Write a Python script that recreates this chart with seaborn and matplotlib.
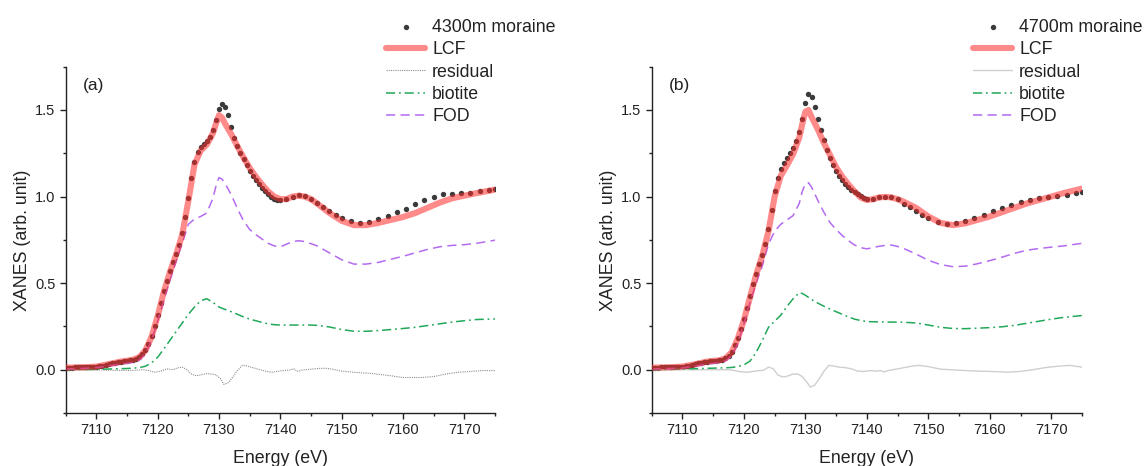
import numpy as np
import matplotlib
matplotlib.use("Agg")
import matplotlib.pyplot as plt
import seaborn as sns

# ---------------- data ----------------
# measured spectra (energy in eV, normalised XANES)
e_meas = [7105, 7105.5, 7106, 7106.5, 7107, 7107.5, 7108, 7108.5, 7109, 7109.5,
          7110, 7110.5, 7111, 7111.5, 7112, 7112.5, 7113, 7113.5, 7114, 7114.5,
          7115, 7115.5, 7116, 7116.5, 7117, 7117.5, 7118, 7118.5, 7119, 7119.5,
          7120, 7120.5, 7121, 7121.5, 7122, 7122.5, 7123, 7123.5, 7124, 7124.5,
          7125, 7125.5, 7126, 7126.5, 7127, 7127.5, 7128, 7128.5, 7129, 7129.5,
          7130, 7130.5, 7131, 7131.5, 7132, 7132.5, 7133, 7133.5, 7134, 7134.5,
          7135, 7135.5, 7136, 7136.5, 7137, 7137.5, 7138, 7138.5, 7139, 7139.5,
          7140, 7141, 7142, 7143, 7144, 7145, 7146, 7147, 7148, 7149, 7150,
          7151.5, 7153, 7154.5, 7156, 7157.5, 7159, 7160.5, 7162, 7163.5, 7165,
          7166.5, 7168, 7169.5, 7171, 7172.5, 7174, 7175]

moraine_4300 = [0.012, 0.012, 0.012, 0.013, 0.013, 0.014, 0.014, 0.015, 0.016, 0.017,
                0.018, 0.020, 0.023, 0.027, 0.032, 0.037, 0.041, 0.044, 0.047, 0.050,
                0.052, 0.055, 0.058, 0.063, 0.072, 0.088, 0.115, 0.150, 0.195, 0.250,
                0.315, 0.385, 0.455, 0.515, 0.570, 0.620, 0.670, 0.720, 0.790, 0.880,
                0.990, 1.110, 1.200, 1.255, 1.285, 1.305, 1.320, 1.345, 1.385, 1.445,
                1.505, 1.535, 1.520, 1.470, 1.400, 1.340, 1.290, 1.250, 1.215, 1.180,
                1.150, 1.120, 1.095, 1.070, 1.050, 1.030, 1.012, 0.998, 0.988, 0.983,
                0.982, 0.988, 1.000, 1.008, 1.003, 0.988, 0.965, 0.940, 0.915, 0.893, 0.875,
                0.858, 0.850, 0.855, 0.870, 0.890, 0.910, 0.927, 0.955, 0.978, 1.000,
                1.012, 1.017, 1.021, 1.023, 1.030, 1.037, 1.042]

moraine_4700 = [0.012, 0.012, 0.012, 0.013, 0.013, 0.014, 0.014, 0.015, 0.016, 0.017,
                0.018, 0.020, 0.023, 0.027, 0.031, 0.036, 0.040, 0.044, 0.047, 0.049,
                0.051, 0.052, 0.054, 0.058, 0.066, 0.080, 0.105, 0.140, 0.185, 0.235,
                0.290, 0.355, 0.425, 0.495, 0.555, 0.610, 0.665, 0.725, 0.810, 0.920,
                1.030, 1.110, 1.160, 1.195, 1.225, 1.250, 1.280, 1.320, 1.375, 1.450,
                1.540, 1.590, 1.575, 1.520, 1.450, 1.385, 1.325, 1.270, 1.225, 1.185,
                1.150, 1.120, 1.095, 1.072, 1.055, 1.038, 1.025, 1.012, 1.002, 0.992,
                0.985, 0.988, 0.998, 1.000, 0.998, 0.985, 0.958, 0.938, 0.918, 0.895, 0.875,
                0.855, 0.843, 0.845, 0.860, 0.875, 0.895, 0.915, 0.935, 0.953, 0.970,
                0.983, 0.990, 0.995, 1.002, 1.010, 1.020, 1.028]

# fit and reference components
e_fit = [7105, 7108, 7110, 7112, 7114, 7115, 7116, 7117, 7118, 7119, 7120, 7121,
         7122, 7123, 7124, 7125, 7126, 7127, 7128, 7129, 7129.5, 7130, 7130.5,
         7131, 7132, 7133, 7134, 7135, 7136, 7137, 7138, 7139, 7140, 7141, 7142,
         7143, 7144, 7145, 7146, 7148, 7150, 7152, 7154, 7156, 7158, 7160, 7162,
         7164, 7166, 7168, 7170, 7172, 7175]

lcf_4300 = [0.012, 0.014, 0.018, 0.032, 0.047, 0.052, 0.058, 0.072, 0.112, 0.190, 0.310, 0.450,
            0.565, 0.665, 0.780, 0.975, 1.185, 1.265, 1.300, 1.365, 1.420, 1.470, 1.455,
            1.420, 1.360, 1.290, 1.225, 1.165, 1.115, 1.070, 1.030, 1.000, 0.985, 0.985, 1.000,
            1.005, 1.000, 0.985, 0.960, 0.905, 0.860, 0.835, 0.835, 0.848, 0.865, 0.882, 0.905,
            0.935, 0.965, 0.990, 1.005, 1.020, 1.040]
fod_4300 = [0.005, 0.008, 0.012, 0.022, 0.032, 0.037, 0.042, 0.055, 0.090, 0.170, 0.280, 0.400,
            0.515, 0.625, 0.730, 0.840, 0.870, 0.885, 0.905, 0.990, 1.060, 1.110, 1.100,
            1.075, 1.010, 0.930, 0.860, 0.810, 0.780, 0.755, 0.730, 0.715, 0.710, 0.725, 0.740,
            0.745, 0.740, 0.728, 0.715, 0.675, 0.635, 0.610, 0.610, 0.620, 0.638, 0.655, 0.675,
            0.695, 0.710, 0.718, 0.722, 0.730, 0.748]
biotite_4300 = [0.000, 0.001, 0.002, 0.004, 0.006, 0.007, 0.009, 0.012, 0.020, 0.040, 0.072, 0.120,
                0.170, 0.220, 0.270, 0.320, 0.362, 0.398, 0.410, 0.390, 0.375, 0.362, 0.355,
                0.348, 0.335, 0.320, 0.305, 0.292, 0.283, 0.273, 0.265, 0.260, 0.258, 0.258, 0.258,
                0.258, 0.258, 0.258, 0.256, 0.247, 0.232, 0.222, 0.222, 0.226, 0.232, 0.238, 0.245,
                0.255, 0.265, 0.275, 0.283, 0.290, 0.293]

lcf_4700 = [0.012, 0.014, 0.018, 0.031, 0.047, 0.051, 0.054, 0.066, 0.100, 0.180, 0.285, 0.420,
            0.550, 0.660, 0.800, 1.000, 1.120, 1.180, 1.245, 1.340, 1.420, 1.490, 1.500,
            1.460, 1.390, 1.310, 1.240, 1.170, 1.115, 1.070, 1.030, 0.995, 0.980, 0.985, 0.995,
            0.998, 0.995, 0.985, 0.970, 0.935, 0.885, 0.848, 0.835, 0.845, 0.865, 0.885, 0.910,
            0.935, 0.960, 0.980, 1.000, 1.020, 1.046]
fod_4700 = [0.005, 0.007, 0.010, 0.020, 0.032, 0.036, 0.040, 0.050, 0.080, 0.150, 0.265, 0.390,
            0.500, 0.600, 0.725, 0.800, 0.840, 0.865, 0.890, 0.960, 1.030, 1.075, 1.080,
            1.055, 0.980, 0.910, 0.850, 0.810, 0.775, 0.745, 0.720, 0.705, 0.698, 0.705, 0.713,
            0.718, 0.720, 0.712, 0.700, 0.668, 0.632, 0.607, 0.595, 0.598, 0.612, 0.630, 0.650,
            0.672, 0.690, 0.700, 0.708, 0.715, 0.730]
biotite_4700 = [0.000, 0.002, 0.004, 0.006, 0.008, 0.009, 0.010, 0.011, 0.013, 0.018, 0.028, 0.050,
                0.100, 0.170, 0.245, 0.280, 0.315, 0.365, 0.410, 0.445, 0.440, 0.430, 0.418,
                0.405, 0.385, 0.367, 0.350, 0.335, 0.320, 0.305, 0.292, 0.284, 0.278, 0.277, 0.276,
                0.276, 0.275, 0.275, 0.274, 0.270, 0.258, 0.245, 0.238, 0.237, 0.240, 0.243, 0.248,
                0.256, 0.268, 0.280, 0.292, 0.302, 0.313]

# fit residuals
e_res = [7105, 7108, 7111, 7114, 7116, 7117.5, 7118.5, 7119.5, 7120.5, 7121.5, 7122.5,
         7123.2, 7124, 7124.8, 7125.5, 7126.3, 7127, 7128, 7128.8, 7129.5, 7130.2, 7130.8,
         7131.5, 7132.3, 7133, 7133.8, 7134.5, 7135.5, 7136.5, 7137.5, 7138.5, 7139.5,
         7140.5, 7141.5, 7142.2, 7142.8, 7143.5, 7145, 7146.5, 7147.5, 7148.5, 7150, 7152,
         7155, 7158, 7160, 7163, 7165, 7167, 7169, 7171, 7173, 7175]
residual_4300 = [0.0, 0.0, -0.002, -0.004, -0.004, 0.0, -0.005, -0.015, -0.008, 0.005, 0.0,
                 0.010, 0.015, 0.0, -0.025, -0.035, -0.030, -0.022, -0.025, -0.030, -0.050, -0.085,
                 -0.075, -0.040, -0.005, 0.025, 0.022, 0.012, 0.002, -0.008, -0.015, -0.010,
                 -0.005, -0.002, 0.005, -0.010, -0.002, 0.003, 0.008, 0.008, 0.003, -0.008, -0.015,
                 -0.022, -0.035, -0.045, -0.045, -0.040, -0.025, -0.015, -0.010, -0.005, -0.005]
residual_4700 = [0.0, 0.0, 0.0, 0.0, 0.0, 0.0, -0.005, -0.012, -0.015, -0.010, -0.005,
                 -0.003, 0.015, 0.005, -0.030, -0.042, -0.038, -0.025, -0.025, -0.040, -0.070, -0.100,
                 -0.090, -0.050, -0.010, 0.025, 0.022, 0.015, 0.012, 0.005, -0.008, -0.010,
                 -0.005, -0.008, -0.005, -0.012, -0.005, 0.005, 0.015, 0.022, 0.025, 0.018, 0.003,
                 -0.003, -0.008, -0.010, -0.014, -0.010, 0.0, 0.012, 0.020, 0.025, 0.015]

panels = [
    dict(tag="(a)", name="4300m moraine", meas=moraine_4300, lcf=lcf_4300,
         res=residual_4300, bio=biotite_4300, fod=fod_4300,
         res_style=dict(color="#8c8c8c", linestyle=(0, (1, 1)), linewidth=0.8)),
    dict(tag="(b)", name="4700m moraine", meas=moraine_4700, lcf=lcf_4700,
         res=residual_4700, bio=biotite_4700, fod=fod_4700,
         res_style=dict(color="#cfcfcf", linestyle="-", linewidth=1.0)),
]

x_major = [7110, 7120, 7130, 7140, 7150, 7160, 7170]
x_minor = [7105, 7115, 7125, 7135, 7145, 7155, 7165, 7175]
y_major = [0.0, 0.5, 1.0, 1.5]
y_minor = [-0.25, 0.25, 0.75, 1.25, 1.75]

# ---------------- style ----------------
sns.set_theme(style="ticks")
plt.rcParams["font.family"] = ["Liberation Sans", "DejaVu Sans"]
plt.rcParams.update({
    "axes.linewidth": 1.0,
    "axes.edgecolor": "#222222",
    "xtick.color": "#222222",
    "ytick.color": "#222222",
    "xtick.labelcolor": "#222222",
    "ytick.labelcolor": "#222222",
    "text.color": "#222222",
    "axes.labelcolor": "#222222",
})

fig = plt.figure(figsize=(11.46, 4.66), dpi=100)
W, H = 1146, 466
axes_px = [(65.7, 495.0), (651.7, 1082.0)]
legend_px = [386, 973]
top_px, bot_px = 66.7, 413.0

for p, (x0, x1), lx in zip(panels, axes_px, legend_px):
    ax = fig.add_axes([x0 / W, 1 - bot_px / H, (x1 - x0) / W, (bot_px - top_px) / H])

    sns.scatterplot(x=e_meas, y=p["meas"], ax=ax, color="#3a3a3a", s=15,
                    linewidth=0, label=p["name"], zorder=2)
    sns.lineplot(x=e_fit, y=p["lcf"], ax=ax, color="#ff2a2a", alpha=0.55,
                 linewidth=4.4, label="LCF", zorder=3)
    sns.lineplot(x=e_res, y=p["res"], ax=ax, label="residual", zorder=2,
                 **p["res_style"])
    sns.lineplot(x=e_fit, y=p["bio"], ax=ax, color="#22a85a", linewidth=1.1,
                 linestyle=(0, (6, 2.5, 1.2, 2.5)), label="biotite", zorder=2)
    sns.lineplot(x=e_fit, y=p["fod"], ax=ax, color="#b36bf0", linewidth=1.1,
                 linestyle=(0, (6, 3.5)), label="FOD", zorder=2)

    ax.set_xlim(7105, 7175)
    ax.set_ylim(-0.25, 1.75)
    ax.set_xticks(x_major)
    ax.set_xticks(x_minor, minor=True)
    ax.set_yticks(y_major)
    ax.set_yticks(y_minor, minor=True)
    ax.set_yticklabels([f"{v:.1f}" for v in y_major])
    ax.tick_params(which="major", direction="out", length=4.3, width=1.0,
                   labelsize=10.5, pad=3)
    ax.tick_params(which="minor", direction="out", length=2.5, width=1.0)
    sns.despine(ax=ax)

    ax.set_xlabel("Energy (eV)", fontsize=12.8, labelpad=9)
    ax.set_ylabel("XANES (arb. unit)", fontsize=12.8, labelpad=3)
    ax.text(0.04, 0.947, p["tag"], transform=ax.transAxes, fontsize=12.5,
            ha="left", va="center")

    handles, labels = ax.get_legend_handles_labels()
    ax.legend(handles, labels, loc="upper left",
              bbox_to_anchor=(lx / W, 1 - 19 / H), bbox_transform=fig.transFigure,
              frameon=False, fontsize=12.8, handlelength=2.2, handletextpad=0.4,
              labelspacing=0.3, borderpad=0, borderaxespad=0, scatterpoints=1)

fig.savefig("out.png", dpi=100)
